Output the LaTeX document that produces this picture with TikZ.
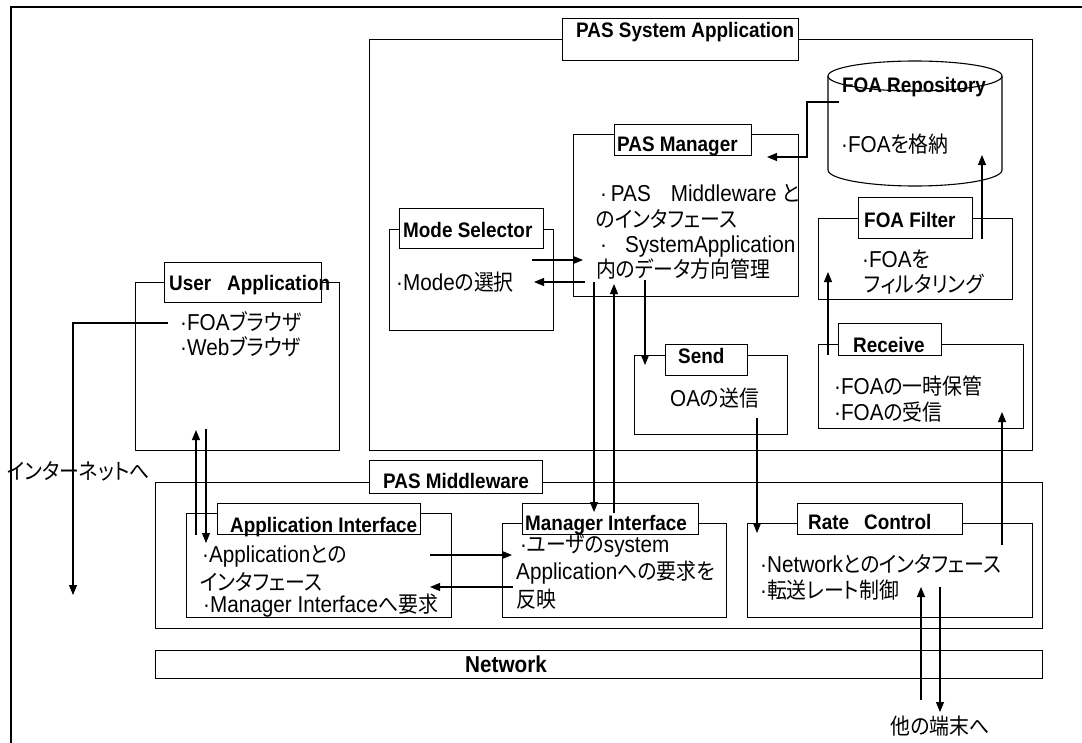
\documentclass[tikz,border=0pt]{standalone}
\usepackage{fontspec}
\setmainfont{Liberation Sans}[FakeStretch=0.9]
\newfontfamily\jp{Noto Sans CJK JP}[Scale=0.96,FakeStretch=0.9,RawFeature=+palt]
\usetikzlibrary{arrows.meta}
\tikzset{
  ln/.style={line width=1.1pt},
  box/.style={draw, line width=1.1pt, fill=white, inner sep=0pt, anchor=north west},
  lbl/.style={inner sep=0pt, anchor=base west, font=\fontsize{21}{24}\selectfont\bfseries},
  txt/.style={inner sep=0pt, anchor=base west, font=\fontsize{23}{26}\selectfont},
  arr/.style={line width=1.1pt, -{Triangle[length=10pt,width=8pt]}},
}
\begin{document}
\begin{tikzpicture}[x=1pt,y=-1pt]
\useasboundingbox (0,0) rectangle (1082,742);
\clip (0,0) rectangle (1082,742);
\fill[white] (0,0) rectangle (1082,742);
% outer frame
\draw[ln] (11,760) -- (11,7) -- (1100,7);

% PAS System Application
\node[box, minimum width=663pt, minimum height=411pt] (sys) at (369,39) {};
\node[box, minimum width=236pt, minimum height=42pt] (sysL) at (562,18) {};
\node[lbl] (sysT) at (576,37) {PAS System Application};

% Mode Selector
\node[box, minimum width=164pt, minimum height=101pt] (mode) at (389,229) {};
\node[box, minimum width=144pt, minimum height=40pt] (modeL) at (399,208) {};
\node[lbl] (modeT) at (403,237) {Mode Selector};
\node[txt] (modeB) at (396,290) {·Mode{\jp の選択}};

% User Application
\node[box, minimum width=204pt, minimum height=168pt] (ua) at (135,282) {};
\node[box, minimum width=157pt, minimum height=40pt] (uaL) at (164,262) {};
\node[lbl] (uaT) at (169,290) {User\hspace{16pt}Application};
\node[txt] (uaB1) at (180,330) {·FOA{\jp ブラウザ}};
\node[txt] (uaB2) at (180,355) {·Web{\jp ブラウザ}};

% PAS Manager
\node[box, minimum width=225pt, minimum height=162pt] (mgr) at (573,134) {};
\node[box, minimum width=137pt, minimum height=31pt] (mgrL) at (614,124) {};
\node[lbl] (mgrT) at (617,151) {PAS Manager};
\node[txt] (mgrB1) at (600,201) {·\,PAS\hspace{20pt}Middleware {\jp と}};
\node[txt] (mgrB2) at (596,227) {\jp のインタフェース};
\node[txt] (mgrB3) at (600,252) {·\hspace{18pt}SystemApplication};
\node[txt] (mgrB4) at (596,277) {\jp 内のデータ方向管理};

% FOA Repository (cylinder)
\draw[ln, fill=white] (828,76) -- (828,170) arc[start angle=180, end angle=360, x radius=87pt, y radius=16pt] -- (1002,76);
\draw[ln] (915,76) ellipse [x radius=87pt, y radius=15pt];
\node[lbl, anchor=base] (repT) at (914,92) {FOA Repository};
\node[txt] (repB) at (841,152) {·FOA{\jp を格納}};

% FOA Filter
\node[box, minimum width=194pt, minimum height=81pt] (fil) at (818,218) {};
\node[box, minimum width=114pt, minimum height=41pt] (filL) at (858,197) {};
\node[lbl] (filT) at (864,227) {FOA Filter};
\node[txt] (filB1) at (862,267) {·FOA{\jp を}};
\node[txt] (filB2) at (864,292) {\jp フィルタリング};

% Send
\node[box, minimum width=153pt, minimum height=79pt] (snd) at (634,355) {};
\node[box, minimum width=82pt, minimum height=31pt] (sndL) at (665,344) {};
\node[lbl] (sndT) at (678,363) {Send};
\node[txt] (sndB) at (670,406) {OA{\jp の送信}};

% Receive
\node[box, minimum width=205pt, minimum height=84pt] (rcv) at (818,344) {};
\node[box, minimum width=103pt, minimum height=32pt] (rcvL) at (838,323) {};
\node[lbl] (rcvT) at (853,352) {Receive};
\node[txt] (rcvB1) at (834,394) {·FOA{\jp の一時保管}};
\node[txt] (rcvB2) at (834,420) {·FOA{\jp の受信}};

% PAS Middleware
\node[box, minimum width=887pt, minimum height=146pt] (mw) at (155,482) {};
\node[box, minimum width=173pt, minimum height=33pt] (mwL) at (369,460) {};
\node[lbl] (mwT) at (383,488) {PAS Middleware};

% Application Interface
\node[box, minimum width=265pt, minimum height=104pt] (ai) at (186,513) {};
\node[box, minimum width=203pt, minimum height=31pt] (aiL) at (217,503) {};
\node[lbl] (aiT) at (230,532) {Application Interface};
\node[txt] (aiB1) at (202,562) {·Application{\jp との}};
\node[txt] (aiB2) at (200,590) {\jp インタフェース};
\node[txt] (aiB3) at (203,612) {·Manager Interface{\jp へ要求}};

% Manager Interface
\node[box, minimum width=224pt, minimum height=94pt] (mi) at (502,523) {};
\node[box, minimum width=176pt, minimum height=31pt] (miL) at (522,503) {};
\node[lbl] (miT) at (525,530) {Manager Interface};
\node[txt] (miB1) at (520,552) {·{\jp ユーザの}system};
\node[txt] (miB2) at (516,579) {Application{\jp への要求を}};
\node[txt] (miB3) at (516,607) {\jp 反映};

% Rate Control
\node[box, minimum width=285pt, minimum height=94pt] (rc) at (747,523) {};
\node[box, minimum width=165pt, minimum height=31pt] (rcL) at (797,503) {};
\node[lbl] (rcT) at (808,529) {Rate\hspace{15pt}Control};
\node[txt] (rcB1) at (760,572) {·Network{\jp とのインタフェース}};
\node[txt] (rcB2) at (760,598) {·{\jp 転送レート制御}};

% Network
\node[box, minimum width=887pt, minimum height=28pt] (net) at (155,650) {};
\node[lbl, font=\fontsize{23}{26}\selectfont\bfseries] (netT) at (465,672) {Network};

% free texts
\node[txt] (inetT) at (7,479) {\jp インターネットへ};
\node[txt, anchor=base] (othT) at (940,734) {\jp 他の端末へ};

% connector end points
\coordinate (c1a) at (168,323); \coordinate (c1b) at (73,323); \coordinate (c1c) at (73,595);
\coordinate (c2a) at (196,535); \coordinate (c2b) at (196,430);
\coordinate (c3a) at (206,429); \coordinate (c3b) at (206,543);
\coordinate (c4a) at (532,260); \coordinate (c4b) at (583,260);
\coordinate (c5a) at (585,282); \coordinate (c5b) at (534,282);
\coordinate (c6a) at (594,282); \coordinate (c6b) at (594,512);
\coordinate (c7a) at (614,513); \coordinate (c7b) at (614,284);
\coordinate (c8a) at (645,280); \coordinate (c8b) at (645,365);
\coordinate (c9a) at (839,102); \coordinate (c9b) at (807,102); \coordinate (c9c) at (807,157); \coordinate (c9d) at (767,157);
\coordinate (c10a) at (982,239); \coordinate (c10b) at (982,155);
\coordinate (c11a) at (828,355); \coordinate (c11b) at (828,272);
\coordinate (c12a) at (757,418); \coordinate (c12b) at (757,533);
\coordinate (c13a) at (1002,545); \coordinate (c13b) at (1002,412);
\coordinate (c14a) at (430,555); \coordinate (c14b) at (512,555);
\coordinate (c15a) at (513,587); \coordinate (c15b) at (430,587);
\coordinate (c16a) at (921,700); \coordinate (c16b) at (921,587);
\coordinate (c17a) at (940,587); \coordinate (c17b) at (940,712);

\draw[arr] (c1a) -- (c1b) -- (c1c);
\draw[arr] (c2a) -- (c2b);
\draw[arr] (c3a) -- (c3b);
\draw[arr] (c4a) -- (c4b);
\draw[arr] (c5a) -- (c5b);
\draw[arr] (c6a) -- (c6b);
\draw[arr] (c7a) -- (c7b);
\draw[arr] (c8a) -- (c8b);
\draw[arr] (c9a) -- (c9b) -- (c9c) -- (c9d);
\draw[arr] (c10a) -- (c10b);
\draw[arr] (c11a) -- (c11b);
\draw[arr] (c12a) -- (c12b);
\draw[arr] (c13a) -- (c13b);
\draw[arr] (c14a) -- (c14b);
\draw[arr] (c15a) -- (c15b);
\draw[arr] (c16a) -- (c16b);
\draw[arr] (c17a) -- (c17b);
\end{tikzpicture}
\end{document}
